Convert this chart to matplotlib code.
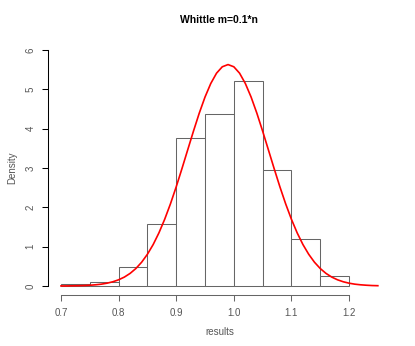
import numpy as np
import matplotlib
matplotlib.use("Agg")
import matplotlib.pyplot as plt

plt.rcParams['font.family'] = ['Liberation Sans', 'DejaVu Sans']

# histogram bins (left edges, width 0.05) and densities
bin_edges = [0.70, 0.75, 0.80, 0.85, 0.90, 0.95, 1.00, 1.05, 1.10, 1.15, 1.20]
densities = [0.04, 0.10, 0.48, 1.57, 3.76, 4.38, 5.22, 2.95, 1.20, 0.25]

# red density curve
curve_x = [0.70, 0.71, 0.72, 0.73, 0.74, 0.75, 0.76, 0.77, 0.78, 0.79,
           0.80, 0.81, 0.82, 0.83, 0.84, 0.85, 0.86, 0.87, 0.88, 0.89,
           0.90, 0.91, 0.92, 0.93, 0.94, 0.95, 0.96, 0.97, 0.98, 0.99,
           1.00, 1.01, 1.02, 1.03, 1.04, 1.05, 1.06, 1.07, 1.08, 1.09,
           1.10, 1.11, 1.12, 1.13, 1.14, 1.15, 1.16, 1.17, 1.18, 1.19,
           1.20, 1.21, 1.22, 1.23, 1.24, 1.25]
curve_y = [0.001, 0.002, 0.004, 0.007, 0.011, 0.019, 0.030, 0.046, 0.071, 0.107,
           0.157, 0.226, 0.320, 0.444, 0.604, 0.806, 1.053, 1.350, 1.696, 2.088,
           2.521, 2.985, 3.463, 3.939, 4.394, 4.804, 5.149, 5.411, 5.574, 5.630,
           5.574, 5.411, 5.149, 4.804, 4.394, 3.939, 3.463, 2.985, 2.521, 2.088,
           1.696, 1.350, 1.053, 0.806, 0.604, 0.444, 0.320, 0.226, 0.157, 0.107,
           0.071, 0.046, 0.030, 0.019, 0.011, 0.007]

xticks = [0.7, 0.8, 0.9, 1.0, 1.1, 1.2]
yticks = [0, 1, 2, 3, 4, 5, 6]

fig = plt.figure(figsize=(4.15, 3.46), dpi=100, facecolor='white')
ax = fig.add_axes([0.1164, 0.1462, 0.8246, 0.7365])

lefts = bin_edges[:-1]
widths = np.diff(bin_edges)
ax.bar(lefts, densities, width=widths, align='edge', facecolor='white',
       edgecolor='#666666', linewidth=0.75)
ax.plot(curve_x, curve_y, color='red', lw=1.2)

ax.set_xlim(0.678, 1.272)
ax.set_ylim(-0.24, 6.24)

for s in ['top', 'right']:
    ax.spines[s].set_visible(False)
ax.spines['left'].set_bounds(0, 6)
ax.spines['bottom'].set_bounds(0.7, 1.2)
ax.spines['left'].set_color('black')
ax.spines['bottom'].set_color('#666666')
ax.spines['left'].set_linewidth(0.75)
ax.spines['bottom'].set_linewidth(0.75)

ax.set_xticks(xticks)
ax.set_xticklabels([f"{v:.1f}" for v in xticks])
ax.set_yticks(yticks)
ax.set_yticklabels([str(v) for v in yticks], rotation=90, va='center')
ax.tick_params(axis='both', length=4.3, width=0.75, labelsize=7, labelcolor='#555555')
ax.tick_params(axis='x', color='#666666', pad=5)
ax.tick_params(axis='y', color='black', pad=5)

ax.set_xlabel("results", fontsize=7, color='#555555', labelpad=6)
ax.set_ylabel("Density", fontsize=7, color='#555555', labelpad=6)
ax.set_title("Whittle m=0.1*n", fontsize=7.5, fontweight='bold', pad=13)

fig.savefig("out.png", dpi=100)
